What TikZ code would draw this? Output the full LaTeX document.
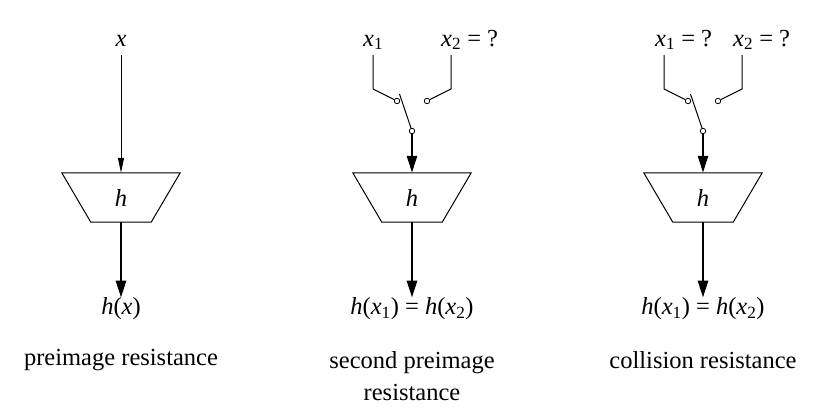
\documentclass[tikz,border=0pt]{standalone}
\usepackage{fontspec}
\setmainfont{Liberation Serif}
\usetikzlibrary{arrows.meta}
\newcommand{\vx}[1]{\textit{#1}}
\tikzstyle{hashbox} = [font=\fontsize{24.5}{32}\selectfont, minimum width=118pt, minimum height=49pt, inner sep=0pt]
\tikzstyle{hashline} = [draw, line width=1pt, line join=miter]
\tikzstyle{contact} = [circle, draw, fill=white, inner sep=0pt, minimum size=5.5pt, line width=0.8pt]
\tikzstyle{lbl} = [font=\fontsize{24.5}{32}\selectfont, inner sep=0pt]
\tikzstyle{toplbl} = [lbl, anchor=base west, text depth=4pt]
\tikzstyle{wire} = [draw, line width=1pt, shorten <=5pt]
\tikzstyle{inarrow} = [draw, line width=1pt, -{Triangle[length=15pt, width=6pt]}]
\tikzstyle{outarrow} = [draw, line width=2.6pt, -{Triangle[length=17pt, width=10pt]}]
\newcommand{\hashshape}[1]{\path[hashline] (#1.north west) -- (#1.north east) -- ([xshift=-29pt]#1.south east) -- ([xshift=29pt]#1.south west) -- cycle;}

\begin{document}
\begin{tikzpicture}[x=1pt, y=-1pt]
    \useasboundingbox (0,0) rectangle (820,416);

    % preimage resistance
    \node[lbl, anchor=base, text depth=4pt] (inA) at (121,46) {\vx{x}};
    \node[hashbox] (hashA) at (121,197.5) {\vx{h}};
    \hashshape{hashA}
    \node[lbl] (outA) at (121,309) {\vx{h}(\vx{x})};
    \node[lbl] (nameA) at (121,360) {preimage resistance};
    \path[inarrow, shorten <=5pt] (inA.south) -- (hashA.north);
    \path[outarrow] (hashA.south) -- (outA.north);

    % second preimage resistance
    \node[toplbl] (inB1) at (363,46) {\vx{x}\textsubscript{1}};
    \node[toplbl] (inB2) at (441,46) {\vx{x}\textsubscript{2} = ?};
    \coordinate (bendB1) at (373,89);
    \coordinate (bendB2) at (451,89);
    \coordinate (leverB) at (399.5,94);
    \node[contact] (cB1) at (397,101) {};
    \node[contact] (cB2) at (427,101) {};
    \node[contact] (pivB) at (412,131) {};
    \node[hashbox] (hashB) at (412,197.5) {\vx{h}};
    \hashshape{hashB}
    \node[lbl] (outB) at (412,309) {\vx{h}(\vx{x}\textsubscript{1}) = \vx{h}(\vx{x}\textsubscript{2})};
    \node[lbl, align=center] (nameB) at (412,376) {second preimage\\resistance};
    \path[wire] (bendB1 |- inB1.south) -- (bendB1) -- (cB1);
    \path[wire] (bendB2 |- inB2.south) -- (bendB2) -- (cB2);
    \draw[line width=1pt] (leverB) -- (pivB);
    \path[outarrow] (pivB.south) -- (hashB.north);
    \path[outarrow] (hashB.south) -- (outB.north);

    % collision resistance
    \node[toplbl] (inC1) at (655,46) {\vx{x}\textsubscript{1} = ?};
    \node[toplbl] (inC2) at (733,46) {\vx{x}\textsubscript{2} = ?};
    \coordinate (bendC1) at (664,89);
    \coordinate (bendC2) at (742,89);
    \coordinate (leverC) at (690.5,94);
    \node[contact] (cC1) at (688,101) {};
    \node[contact] (cC2) at (718,101) {};
    \node[contact] (pivC) at (703,131) {};
    \node[hashbox] (hashC) at (703,197.5) {\vx{h}};
    \hashshape{hashC}
    \node[lbl] (outC) at (703,309) {\vx{h}(\vx{x}\textsubscript{1}) = \vx{h}(\vx{x}\textsubscript{2})};
    \node[lbl] (nameC) at (703,360) {collision resistance};
    \path[wire] (bendC1 |- inC1.south) -- (bendC1) -- (cC1);
    \path[wire] (bendC2 |- inC2.south) -- (bendC2) -- (cC2);
    \draw[line width=1pt] (leverC) -- (pivC);
    \path[outarrow] (pivC.south) -- (hashC.north);
    \path[outarrow] (hashC.south) -- (outC.north);
\end{tikzpicture}
\end{document}
